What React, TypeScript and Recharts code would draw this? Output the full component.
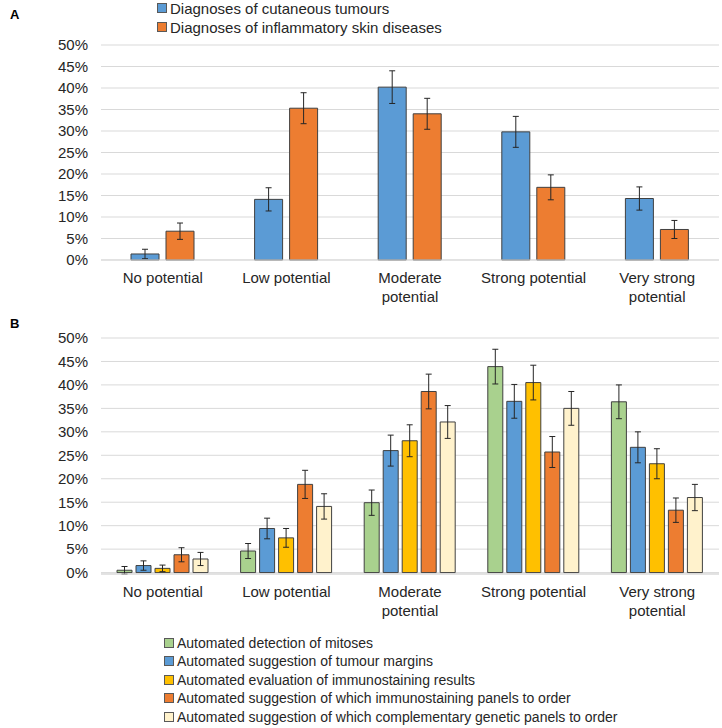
import { BarChart, Bar, XAxis, YAxis, CartesianGrid, ErrorBar } from "recharts";

const FONT = '"Liberation Sans", Arial, sans-serif';
const TEXT = "#262626";
const GRID = "#D9D9D9";
const OUTLINE = "#404040";

const categories = [
  "No potential",
  "Low potential",
  "Moderate potential",
  "Strong potential",
  "Very strong potential",
];
const percentTicks = [0, 5, 10, 15, 20, 25, 30, 35, 40, 45, 50];

// panel A
const tumourValues = [1.4, 14.1, 40.2, 29.8, 14.3];
const tumourErrors = [1.1, 2.7, 3.8, 3.6, 2.7];
const inflammatoryValues = [6.7, 35.3, 34.0, 16.9, 7.1];
const inflammatoryErrors = [1.9, 3.6, 3.6, 2.9, 2.1];

// panel B
const mitosesValues = [0.5, 4.6, 14.9, 43.9, 36.4];
const mitosesErrors = [0.8, 1.6, 2.7, 3.7, 3.6];
const marginsValues = [1.5, 9.4, 26.0, 36.5, 26.7];
const marginsErrors = [1.0, 2.2, 3.3, 3.6, 3.3];
const evaluationValues = [0.9, 7.4, 28.1, 40.5, 23.2];
const evaluationErrors = [0.7, 2.0, 3.4, 3.7, 3.2];
const immunoPanelValues = [3.8, 18.8, 38.6, 25.7, 13.3];
const immunoPanelErrors = [1.5, 3.0, 3.7, 3.3, 2.6];
const geneticPanelValues = [2.9, 14.1, 32.1, 35.0, 16.0];
const geneticPanelErrors = [1.4, 2.7, 3.5, 3.6, 2.8];

type Series = {
  key: string;
  label: string;
  color: string;
  values: number[];
  errors: number[];
};

const seriesA: Series[] = [
  { key: "tumour", label: "Diagnoses of cutaneous tumours", color: "#5B9BD5", values: tumourValues, errors: tumourErrors },
  { key: "inflammatory", label: "Diagnoses of inflammatory skin diseases", color: "#ED7D31", values: inflammatoryValues, errors: inflammatoryErrors },
];

const seriesB: Series[] = [
  { key: "mitoses", label: "Automated detection of mitoses", color: "#A9D18E", values: mitosesValues, errors: mitosesErrors },
  { key: "margins", label: "Automated suggestion of tumour margins", color: "#5B9BD5", values: marginsValues, errors: marginsErrors },
  { key: "evaluation", label: "Automated evaluation of immunostaining results", color: "#FFC000", values: evaluationValues, errors: evaluationErrors },
  { key: "immunoPanels", label: "Automated suggestion of which immunostaining panels to order", color: "#ED7D31", values: immunoPanelValues, errors: immunoPanelErrors },
  { key: "geneticPanels", label: "Automated suggestion of which complementary genetic panels to order", color: "#FFF2CC", values: geneticPanelValues, errors: geneticPanelErrors },
];

function buildRows(series: Series[]) {
  return categories.map((name, i) => {
    const row: Record<string, string | number> = { name };
    series.forEach((s) => {
      row[s.key] = s.values[i];
      row[s.key + "Err"] = s.errors[i];
    });
    return row;
  });
}

const dataA = buildRows(seriesA);
const dataB = buildRows(seriesB);

function CategoryTick(props: any) {
  const { x, y, payload } = props;
  const text = String(payload.value);
  const cut = text.lastIndexOf(" ");
  const lines = text.length > 16 ? [text.slice(0, cut), text.slice(cut + 1)] : [text];
  return (
    <text x={x} y={y} textAnchor="middle" fill={TEXT} fontSize={15} fontFamily={FONT}>
      {lines.map((line, i) => (
        <tspan key={i} x={x} dy={i === 0 ? 15 : 18.5}>
          {line}
        </tspan>
      ))}
    </text>
  );
}

function LegendBox({
  series,
  left,
  top,
  rowHeight,
  fontSize,
}: {
  series: Series[];
  left: number;
  top: number;
  rowHeight: number;
  fontSize: number;
}) {
  return (
    <div style={{ position: "absolute", left, top, fontFamily: FONT, fontSize, color: TEXT }}>
      {series.map((s) => (
        <div key={s.key} style={{ height: rowHeight, display: "flex", alignItems: "center", whiteSpace: "nowrap" }}>
          <span
            style={{
              display: "inline-block",
              width: 8,
              height: 8,
              background: s.color,
              border: "1px solid #595959",
              marginRight: 3,
            }}
          />
          {s.label}
        </div>
      ))}
    </div>
  );
}

function Panel({
  data,
  series,
  height,
  top,
  bottom,
  barSize,
  barGap,
}: {
  data: Record<string, string | number>[];
  series: Series[];
  height: number;
  top: number;
  bottom: number;
  barSize: number;
  barGap: number;
}) {
  return (
    <BarChart
      width={722}
      height={height}
      data={data}
      margin={{ top, right: 3, left: 0, bottom }}
      barGap={barGap}
    >
      <CartesianGrid vertical={false} stroke={GRID} />
      <XAxis
        dataKey="name"
        axisLine={{ stroke: GRID }}
        tickLine={false}
        height={50}
        interval={0}
        tick={<CategoryTick />}
      />
      <YAxis
        domain={[0, 50]}
        ticks={percentTicks}
        interval={0}
        tickFormatter={(v: number) => `${v}%`}
        axisLine={false}
        tickLine={false}
        width={101}
        tickMargin={7}
        tick={{ fontSize: 15, fill: TEXT, fontFamily: FONT }}
      />
      {series.map((s) => (
        <Bar
          key={s.key}
          dataKey={s.key}
          fill={s.color}
          stroke={OUTLINE}
          strokeWidth={1}
          barSize={barSize}
          isAnimationActive={false}
        >
          <ErrorBar dataKey={s.key + "Err"} width={3} stroke="#262626" strokeWidth={1} />
        </Bar>
      ))}
    </BarChart>
  );
}

export default function App() {
  return (
    <div style={{ position: "absolute", left: 0, top: 0, width: 722, height: 728, background: "#fff", overflow: "hidden" }}>
      <div style={{ position: "absolute", left: 10, top: 7, fontFamily: FONT, fontWeight: "bold", fontSize: 13, color: "#000" }}>A</div>
      <div style={{ position: "absolute", left: 10, top: 316, fontFamily: FONT, fontWeight: "bold", fontSize: 13, color: "#000" }}>B</div>

      <div style={{ position: "absolute", left: 0, top: 0 }}>
        <Panel data={dataA} series={seriesA} height={310} top={45} bottom={0} barSize={28} barGap={7} />
      </div>
      <LegendBox series={seriesA} left={157} top={-1.5} rowHeight={19} fontSize={15} />

      <div style={{ position: "absolute", left: 0, top: 310 }}>
        <Panel data={dataB} series={seriesB} height={418} top={28} bottom={104} barSize={15} barGap={4} />
      </div>
      <LegendBox series={seriesB} left={164} top={633.5} rowHeight={18.5} fontSize={14} />
    </div>
  );
}
